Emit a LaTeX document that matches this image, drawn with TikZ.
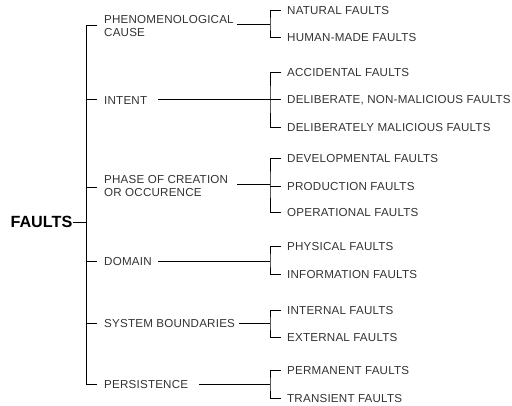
\documentclass[tikz,border=0pt]{standalone}
\usepackage{fontspec}
\setmainfont{Liberation Sans}
\newfontfamily\lblfont[LetterSpace=1.8]{Liberation Sans}
\begin{document}
\begin{tikzpicture}[x=1pt,y=-1pt,
  lbl/.style={font=\lblfont\fontsize{11.6}{13}\selectfont, text=black!80, inner sep=0pt, text height=8.3pt, text depth=0pt, anchor=west},
  lbl2/.style={font=\lblfont\fontsize{11.6}{13}\selectfont, text=black!80, inner sep=0pt, align=left, anchor=north west},
  conn/.style={draw=black, line width=0.9pt},
]
\useasboundingbox (0,0) rectangle (512,406);
% root
\node[font=\fontsize{16.2}{18}\selectfont\bfseries, inner sep=0pt, text height=11.6pt, text depth=0pt, anchor=east] (root) at (72.5,222) {FAULTS};
% categories
\node[lbl2] (phen) at (104,15.2) {PHENOMENOLOGICAL\\CAUSE};
\node[lbl] (intent) at (104,100) {INTENT};
\node[lbl2] (phase) at (104,175.2) {PHASE OF CREATION\\OR OCCURENCE};
\node[lbl] (domain) at (104,261) {DOMAIN};
\node[lbl] (sysb) at (104,323) {SYSTEM BOUNDARIES};
\node[lbl] (pers) at (104,384) {PERSISTENCE};
% leaves
\node[lbl] (nat) at (287,10) {NATURAL FAULTS};
\node[lbl] (hum) at (287,37) {HUMAN-MADE FAULTS};
\node[lbl] (acc) at (287,72) {ACCIDENTAL FAULTS};
\node[lbl] (delnm) at (287,99) {DELIBERATE, NON-MALICIOUS FAULTS};
\node[lbl] (delm) at (287,127) {DELIBERATELY MALICIOUS FAULTS};
\node[lbl] (dev) at (287,158) {DEVELOPMENTAL FAULTS};
\node[lbl] (prod) at (287,186) {PRODUCTION FAULTS};
\node[lbl] (oper) at (287,212) {OPERATIONAL FAULTS};
\node[lbl] (phys) at (287,246) {PHYSICAL FAULTS};
\node[lbl] (info) at (287,274) {INFORMATION FAULTS};
\node[lbl] (inte) at (287,310) {INTERNAL FAULTS};
\node[lbl] (exte) at (287,337) {EXTERNAL FAULTS};
\node[lbl] (perm) at (287,370) {PERMANENT FAULTS};
\node[lbl] (tran) at (287,398) {TRANSIENT FAULTS};
% junction coordinates
\coordinate (mtop) at (86,25);
\coordinate (mbot) at (86,384);
\coordinate (jroot) at (86,222);
\coordinate (jA) at (270,24);
\coordinate (jB) at (270,99);
\coordinate (jC) at (270,184);
\coordinate (jD) at (270,261);
\coordinate (jE) at (270,323);
\coordinate (jF) at (270,384);
% main trunk
\draw[conn] ([xshift=-7pt]phen.north west |- mtop) -- (mtop) -- (mbot) -- ([xshift=-7pt]pers.west);
\draw[conn] (root.east) -- (jroot);
\foreach \n/\y in {intent/99, phase/187, domain/261, sysb/323} {
  \draw[conn] (86,\y) -- ([xshift=-7pt]\n.west |- 0,\y);
}
% connectors from categories to brackets
\draw[conn] ([xshift=3pt]phen.east |- jA) -- (jA);
\draw[conn] ([xshift=11pt]intent.east |- jB) -- (jB);
\draw[conn] ([xshift=9pt]phase.east |- jC) -- (jC);
\draw[conn] ([xshift=6pt]domain.east |- jD) -- (jD);
\draw[conn] ([xshift=4pt]sysb.east |- jE) -- (jE);
\draw[conn] ([xshift=11pt]pers.east |- jF) -- (jF);
% brackets
\draw[conn] ([xshift=-6pt]nat.west) -| (jA) |- ([xshift=-6pt]hum.west);
\draw[conn] ([xshift=-6pt]acc.west) -| (jB) |- ([xshift=-6pt]delm.west);
\draw[conn] (jB) -- ([xshift=-6pt]delnm.west);
\draw[conn] ([xshift=-6pt]dev.west) -| (jC) |- ([xshift=-6pt]oper.west);
\draw[conn] (270,186) -- ([xshift=-6pt]prod.west);
\draw[conn] ([xshift=-6pt]phys.west) -| (jD) |- ([xshift=-6pt]info.west);
\draw[conn] ([xshift=-6pt]inte.west) -| (jE) |- ([xshift=-6pt]exte.west);
\draw[conn] ([xshift=-6pt]perm.west) -| (jF) |- ([xshift=-6pt]tran.west);
\end{tikzpicture}
\end{document}
